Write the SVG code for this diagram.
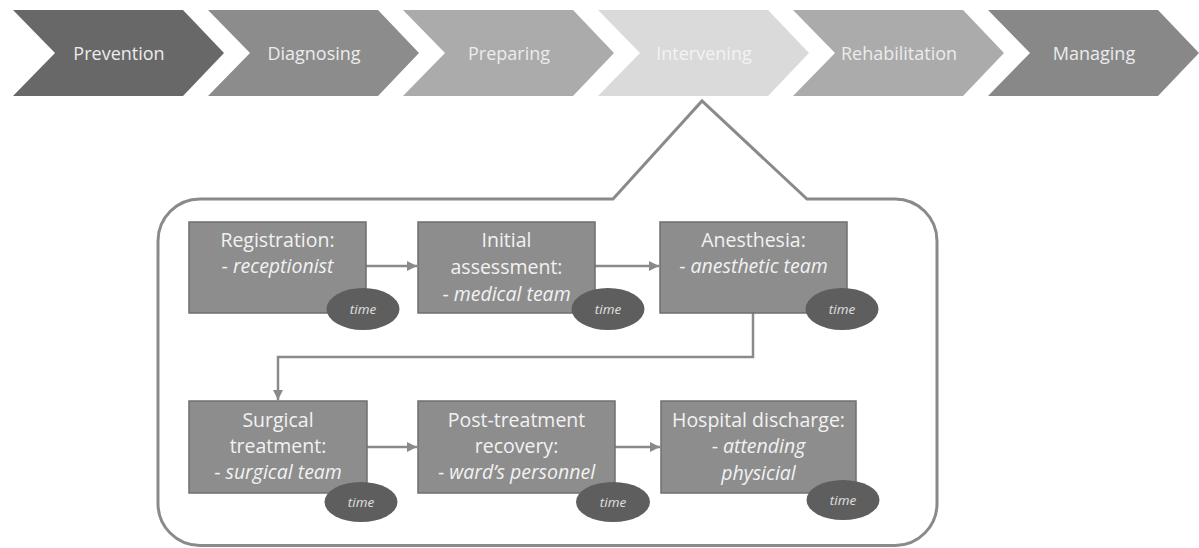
<svg xmlns="http://www.w3.org/2000/svg" width="1199" height="548" viewBox="0 0 1199 548">
<defs>
<style>
.chev-t{font-family:"Open Sans","Liberation Sans",sans-serif;font-size:18px;fill:#ececec;text-anchor:middle}
.box{fill:#8d8d8d;stroke:#6f6f6f;stroke-width:1.5}
.bt{font-family:"Open Sans","Liberation Sans",sans-serif;font-size:19.5px;fill:#f2f2f2;text-anchor:middle}
.it{font-style:italic}
.ell{fill:#5e5e5e}
.tt{font-family:"Open Sans","Liberation Sans",sans-serif;font-size:13.5px;font-style:italic;fill:#e0e0e0;text-anchor:middle}
.conn{fill:none;stroke:#8a8a8a;stroke-width:2.5}
</style>
<marker id="ah" viewBox="0 0 10 10" refX="10" refY="5" markerWidth="4" markerHeight="4" orient="auto" markerUnits="strokeWidth">
<path d="M0,0 L10,5 L0,10 Z" fill="#8a8a8a"/>
</marker>
</defs>
<rect width="1199" height="548" fill="#ffffff"/>

<g id="chevrons">
<g id="chev-prevention"><polygon points="13,10 183,10 224,53 183,96 13,96 55,53" fill="#686868"/><text class="chev-t" x="119" y="59.5">Prevention</text></g>
<g id="chev-diagnosing"><polygon points="208,10 378,10 419,53 378,96 208,96 250,53" fill="#8c8c8c"/><text class="chev-t" x="314" y="59.5">Diagnosing</text></g>
<g id="chev-preparing"><polygon points="403,10 573,10 614,53 573,96 403,96 445,53" fill="#ababab"/><text class="chev-t" x="509" y="59.5">Preparing</text></g>
<g id="chev-intervening"><polygon points="598,10 768,10 809,53 768,96 598,96 640,53" fill="#dadada"/><text class="chev-t" x="704" y="59.5" style="fill:#f3f3f3">Intervening</text></g>
<g id="chev-rehabilitation"><polygon points="793,10 963,10 1004,53 963,96 793,96 835,53" fill="#ababab"/><text class="chev-t" x="899" y="59.5">Rehabilitation</text></g>
<g id="chev-managing"><polygon points="988,10 1158,10 1199,53 1158,96 988,96 1030,53" fill="#888888"/><text class="chev-t" x="1094" y="59.5">Managing</text></g>
</g>

<g id="callout">
<path d="M200,199 H613 L702,101 L807,199 H895 A42,42 0 0 1 937,241 V503 A42,42 0 0 1 895,545.5 H200 A42,42 0 0 1 158,503 V241 A42,42 0 0 1 200,199 Z" fill="none" stroke="#8a8a8a" stroke-width="3"/>
</g>

<g id="connectors">
<line class="conn" x1="366" y1="266" x2="417" y2="266" marker-end="url(#ah)"/>
<line class="conn" x1="595" y1="266" x2="659" y2="266" marker-end="url(#ah)"/>
<path class="conn" d="M753,313 V357 H278 V400" marker-end="url(#ah)"/>
<line class="conn" x1="367" y1="447" x2="417" y2="447" marker-end="url(#ah)"/>
<line class="conn" x1="615" y1="447" x2="660" y2="447" marker-end="url(#ah)"/>
</g>

<g id="node-registration">
<rect class="box" x="189" y="222" width="177" height="91"/>
<text class="bt" x="277.5" y="247">Registration:</text>
<text class="bt" x="277.5" y="273">- <tspan class="it">receptionist</tspan></text>
<ellipse class="ell" cx="363" cy="309" rx="36.5" ry="21"/>
<text class="tt" x="363" y="314">time</text>
</g>

<g id="node-initial">
<rect class="box" x="418" y="222" width="177" height="91"/>
<text class="bt" x="506.5" y="247">Initial</text>
<text class="bt" x="506.5" y="274">assessment:</text>
<text class="bt" x="506.5" y="301">- <tspan class="it">medical team</tspan></text>
<ellipse class="ell" cx="608" cy="309" rx="36.5" ry="21"/>
<text class="tt" x="608" y="314">time</text>
</g>

<g id="node-anesthesia">
<rect class="box" x="660" y="222" width="187" height="91"/>
<text class="bt" x="753.5" y="247">Anesthesia:</text>
<text class="bt" x="753.5" y="273">- <tspan class="it">anesthetic team</tspan></text>
<ellipse class="ell" cx="842" cy="309" rx="36.5" ry="21"/>
<text class="tt" x="842" y="314">time</text>
</g>

<g id="node-surgical">
<rect class="box" x="189" y="401" width="178" height="92"/>
<text class="bt" x="278" y="427">Surgical</text>
<text class="bt" x="278" y="453">treatment:</text>
<text class="bt" x="278" y="479">- <tspan class="it">surgical team</tspan></text>
<ellipse class="ell" cx="361" cy="502" rx="36.5" ry="20"/>
<text class="tt" x="361" y="507">time</text>
</g>

<g id="node-posttreatment">
<rect class="box" x="418" y="401" width="197" height="92"/>
<text class="bt" x="516.5" y="427">Post-treatment</text>
<text class="bt" x="516.5" y="453">recovery:</text>
<text class="bt" x="516.5" y="479">- <tspan class="it">ward’s personnel</tspan></text>
<ellipse class="ell" cx="613" cy="502" rx="37" ry="20"/>
<text class="tt" x="613" y="507">time</text>
</g>

<g id="node-discharge">
<rect class="box" x="661" y="401" width="195" height="92"/>
<text class="bt" x="758.5" y="427">Hospital discharge:</text>
<text class="bt" x="758.5" y="453">- <tspan class="it">attending</tspan></text>
<text class="bt" x="758.5" y="480"><tspan class="it">physicial</tspan></text>
<ellipse class="ell" cx="843" cy="500" rx="36.5" ry="20"/>
<text class="tt" x="843" y="505">time</text>
</g>
</svg>
